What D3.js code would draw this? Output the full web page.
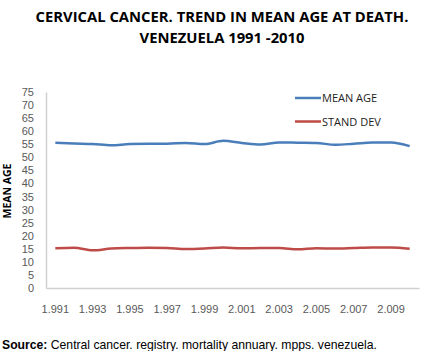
<!DOCTYPE html>
<html><head><meta charset="utf-8">
<script src="https://cdn.jsdelivr.net/npm/d3@7"></script>
<style>body{margin:0;background:#fff}svg{display:block}</style>
</head><body>
<script>
const years = [1991,1992,1993,1994,1995,1996,1997,1998,1999,2000,2001,2002,2003,2004,2005,2006,2007,2008,2009,2010];
const meanAge = [55.6,55.3,55.1,54.6,55.1,55.2,55.2,55.5,55.1,56.3,55.5,54.9,55.7,55.6,55.5,54.8,55.2,55.7,55.7,54.3];
const standDev = [15.2,15.4,14.4,15.1,15.3,15.4,15.3,14.9,15.1,15.5,15.2,15.3,15.3,14.8,15.2,15.1,15.3,15.5,15.5,15.0];
const yTicks = [0,5,10,15,20,25,30,35,40,45,50,55,60,65,70,75];
const xTickYears = [1991,1993,1995,1997,1999,2001,2003,2005,2007,2009];
const seriesNames = ["MEAN AGE","STAND DEV"];
const colors = ["#4a7ebb","#be4b48"];

const W=421,H=351;
const svg=d3.select("body").append("svg").attr("width",W).attr("height",H);
const m={l:46,r:2,t:92,b:63};
const x=d3.scaleBand().domain(years).range([m.l,W-m.r]);
const y=d3.scaleLinear().domain([0,75]).range([H-m.b,m.t]);
const cx=d=>x(d)+x.bandwidth()/2;
const tickFont="Liberation Sans, Arial, sans-serif";

// title
const title=svg.append("text").attr("text-anchor","middle").attr("font-family","Open Sans, sans-serif")
  .attr("font-weight","bold").attr("font-size",14.8).attr("fill","#000");
title.append("tspan").attr("x",222).attr("y",22).text("CERVICAL CANCER. TREND IN MEAN AGE AT DEATH.");
title.append("tspan").attr("x",222).attr("y",43).text("VENEZUELA 1991 -2010");

// axes
const yAxis=svg.append("g").attr("transform",`translate(${m.l},0)`)
  .call(d3.axisLeft(y).tickValues(yTicks).tickSize(0).tickPadding(12));
yAxis.select(".domain").attr("stroke","#d0d0d0").attr("stroke-width",1.5);
yAxis.selectAll("text").attr("font-family",tickFont).attr("font-size",11).attr("fill","#595959");

const xAxis=svg.append("g").attr("transform",`translate(0,${y(0)})`)
  .call(d3.axisBottom(x).tickValues(xTickYears).tickSize(0).tickPadding(17)
    .tickFormat(d=>d3.format(".3f")(d/1000)));
xAxis.select(".domain").attr("stroke","#d0d0d0").attr("stroke-width",1.5);
xAxis.selectAll("text").attr("font-family",tickFont).attr("font-size",11).attr("fill","#595959");

// y title
svg.append("text").attr("transform","translate(11,191) rotate(-90)").attr("text-anchor","middle")
  .attr("font-family","Open Sans, sans-serif").attr("font-weight","bold").attr("font-size",10.5).text("MEAN AGE");

// lines
const line=d3.line().x((d,i)=>cx(years[i])).y(d=>y(d)).curve(d3.curveMonotoneX);
[meanAge,standDev].forEach((s,i)=>{
  svg.append("path").datum(s).attr("d",line).attr("fill","none").attr("stroke",colors[i]).attr("stroke-width",2.5);
});

// legend
seriesNames.forEach((n,i)=>{
  const ly=98+i*23.5;
  svg.append("line").attr("x1",295).attr("x2",321).attr("y1",ly).attr("y2",ly).attr("stroke",colors[i]).attr("stroke-width",2.5);
  svg.append("text").attr("x",322).attr("y",ly+4).attr("font-family","Open Sans, sans-serif").attr("font-size",11).attr("fill","#222").text(n);
});

// source
const src=svg.append("text").attr("x",2).attr("y",349).attr("font-family","Liberation Sans, Arial, sans-serif").attr("font-size",12.2).attr("fill","#000");
src.append("tspan").attr("font-weight","bold").text("Source:");
src.append("tspan").text(" Central cancer. registry. mortality annuary. mpps. venezuela.");
</script>
</body></html>
